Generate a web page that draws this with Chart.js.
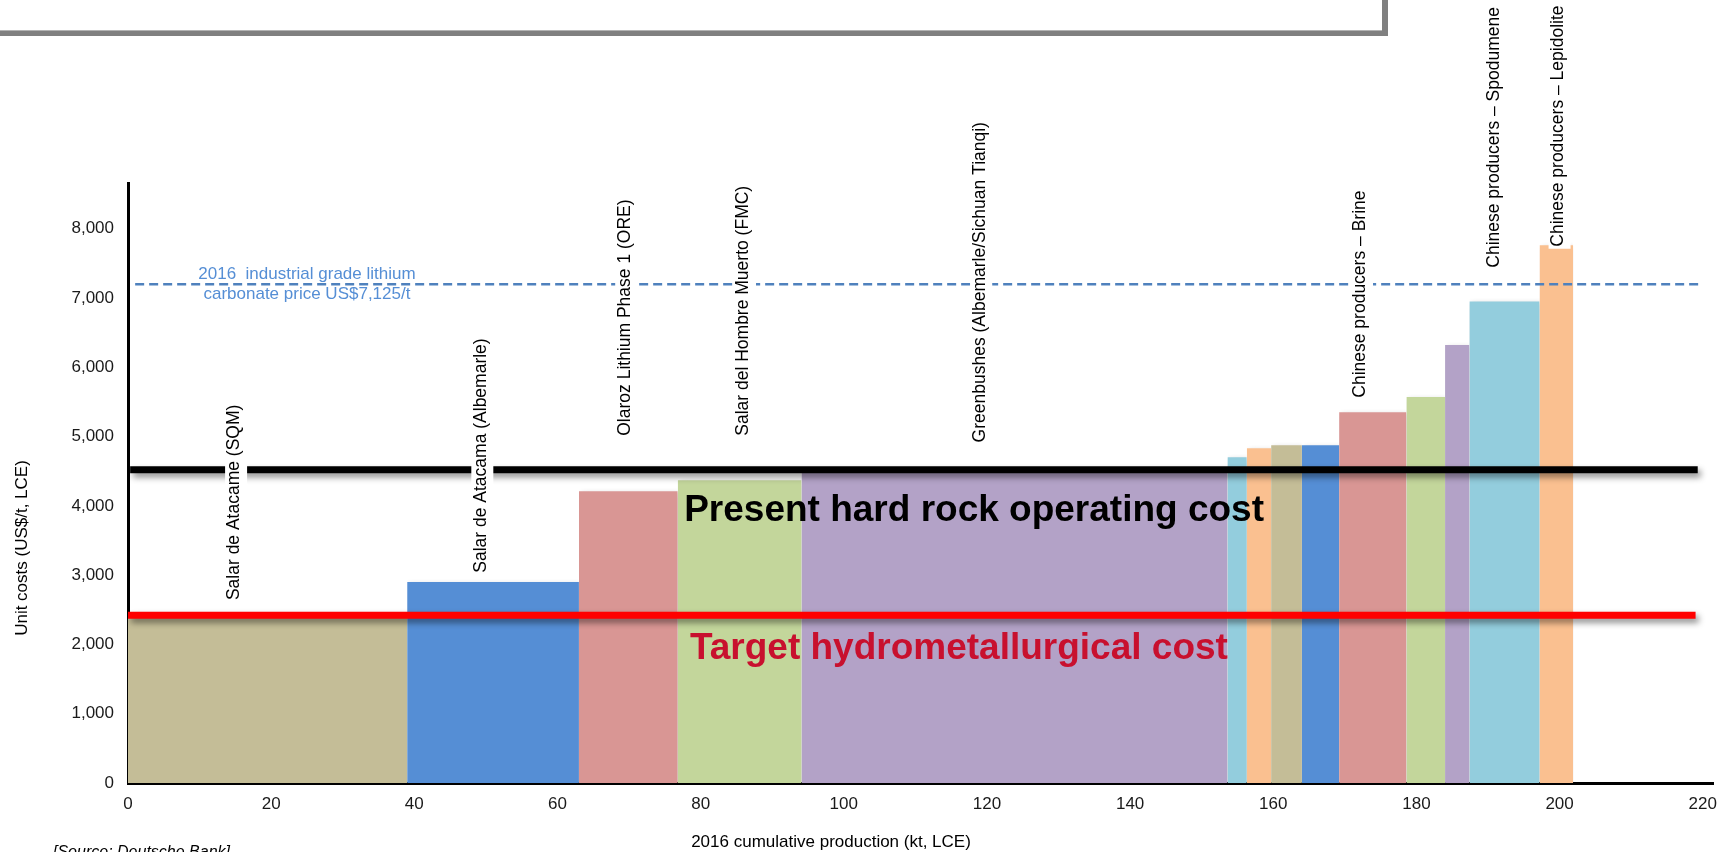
<!DOCTYPE html>
<html>
<head>
<meta charset="utf-8">
<script src="https://cdn.jsdelivr.net/npm/chart.js@4.4.1/dist/chart.umd.min.js"></script>
<style>
html,body{margin:0;padding:0;background:#fff;overflow:hidden;}
canvas{display:block;}
</style>
</head>
<body>
<canvas id="c" width="1728" height="852"></canvas>
<script>
// ---------------- DATA ----------------
const producers = [
  "Salar de Atacame (SQM)",
  "Salar de Atacama (Albemarle)",
  "Olaroz Lithium Phase 1 (ORE)",
  "Salar del Hombre Muerto (FMC)",
  "Greenbushes (Albemarle/Sichuan Tianqi)",
  "", "", "", "",
  "Chinese producers \u2013 Brine",
  "", "",
  "Chinese producers \u2013 Spodumene",
  "Chinese producers \u2013 Lepidolite"
];
// 2016 production per producer (kt LCE) -> bar widths
const production = [39, 24, 13.8, 17.3, 59.5, 2.7, 3.4, 4.3, 5.2, 9.4, 5.4, 3.4, 9.8, 4.7];
// unit cost (US$/t LCE) -> bar heights
const unitCost = [2380, 2900, 4210, 4370, 4490, 4700, 4830, 4875, 4875, 5350, 5570, 6320, 6950, 7760];
const hardRockCost = 4520;
const hydroCost = 2420;
const lithiumPrice = 7200;
const xTickLabels = [0, 20, 40, 60, 80, 100, 120, 140, 160, 180, 200, 220];
const yTickLabels = [0, 1000, 2000, 3000, 4000, 5000, 6000, 7000, 8000];
const priceText = ["2016  industrial grade lithium", "carbonate price US$7,125/t"];
const hardRockText = "Present hard rock operating cost";
const hydroText = "Target hydrometallurgical cost";
const yTitle = "Unit costs (US$/t, LCE)";
const xTitle = "2016 cumulative production (kt, LCE)";
const sourceText = "[Source: Deutsche Bank]";

// ---------------- STYLE / LAYOUT ----------------
const FONT = '"Liberation Sans", Arial, Helvetica, sans-serif';
const palette = ["#C4BD97", "#558ED5", "#D99694", "#C3D69B", "#B3A2C7", "#93CDDD", "#FAC090"];
// label anchors (data units: x centre, y of text start)
const labelAnchor = [[15.1, 2640], [49.5, 3035], [69.6, 5012], [86.2, 5012], [119.2, 4916],
  null, null, null, null, [172.4, 5561], null, null, [191.1, 7437], [200.0, 7740]];

let cum = 0;
const barDatasets = unitCost.map((c, i) => {
  const x0 = cum; cum += production[i]; const x1 = cum;
  return {
    label: producers[i] || ("producer " + (i + 1)),
    data: [{x: x0, y: c}, {x: x1, y: c}],
    backgroundColor: palette[i % palette.length],
    borderColor: "rgba(0,0,0,0)",
    borderWidth: 0,
    pointRadius: 0,
    fill: "origin",
    tension: 0,
    order: 2,
    kind: "bar"
  };
});
const refDatasets = [
  {label: "hard rock", data: [{x: 0.3, y: hardRockCost}, {x: 219.3, y: hardRockCost}],
   borderColor: "#000000", borderWidth: 7, borderCapStyle: "butt", pointRadius: 0, fill: false, order: 1, kind: "solid"},
  {label: "hydro", data: [{x: 0, y: hydroCost}, {x: 219.0, y: hydroCost}],
   borderColor: "#FF0000", borderWidth: 7, borderCapStyle: "butt", pointRadius: 0, fill: false, order: 1, kind: "solid"},
  {label: "price", data: [{x: 1.0, y: lithiumPrice}, {x: 219.7, y: lithiumPrice}],
   borderColor: "#4F81BD", borderWidth: 2.5, borderDash: [9, 5], pointRadius: 0, fill: false, order: 0, kind: "dash"}
];

const shadowPlugin = {
  id: "shadows",
  beforeDatasetsDraw(chart) {
    const ctx = chart.ctx;
    ctx.shadowColor = "rgba(0,0,0,0.22)";
    ctx.shadowBlur = 5;
    ctx.shadowOffsetX = 2;
    ctx.shadowOffsetY = 2;
  },
  beforeDatasetDraw(chart, args) {
    const ctx = chart.ctx;
    const k = chart.data.datasets[args.index].kind;
    if (k === "solid") {
      ctx.shadowColor = "rgba(0,0,0,0.45)";
      ctx.shadowBlur = 6;
      ctx.shadowOffsetX = 3;
      ctx.shadowOffsetY = 4;
    } else if (k === "dash") {
      ctx.shadowColor = "rgba(0,0,0,0)";
      ctx.shadowBlur = 0;
      ctx.shadowOffsetX = 0;
      ctx.shadowOffsetY = 0;
    }
  },
  afterDatasetsDraw(chart) {
    const ctx = chart.ctx;
    ctx.shadowColor = "rgba(0,0,0,0)";
    ctx.shadowBlur = 0;
    ctx.shadowOffsetX = 0;
    ctx.shadowOffsetY = 0;
  }
};

const textPlugin = {
  id: "texts",
  afterDraw(chart) {
    const ctx = chart.ctx, xs = chart.scales.x, ys = chart.scales.y;
    ctx.save();
    // frame of the text box above the chart
    ctx.fillStyle = "#808080";
    ctx.fillRect(0, 30, 1388, 6);
    ctx.fillRect(1382, 0, 6, 36);
    ctx.fillStyle = "#b3b3b3";
    ctx.fillRect(0, 30, 1382, 1);

    // producer labels (vertical, with white background)
    ctx.font = "17.5px " + FONT;
    producers.forEach((name, i) => {
      const a = labelAnchor[i];
      if (!name || !a) return;
      const px = xs.getPixelForValue(a[0]);
      const py = ys.getPixelForValue(a[1]);
      const w = ctx.measureText(name).width;
      ctx.fillStyle = "#ffffff";
      ctx.fillRect(px - 11, py - w - 2, 22, w + 4);
      ctx.save();
      ctx.translate(px, py);
      ctx.rotate(-Math.PI / 2);
      ctx.fillStyle = "#000000";
      ctx.textAlign = "left";
      ctx.textBaseline = "middle";
      ctx.fillText(name, 0, -1.5);
      ctx.restore();
    });

    // price annotation
    ctx.font = "17px " + FONT;
    ctx.fillStyle = "#558ED5";
    ctx.textAlign = "center";
    ctx.textBaseline = "middle";
    const priceY = ys.getPixelForValue(lithiumPrice);
    const priceX = xs.getPixelForValue(25);
    ctx.fillText(priceText[0], priceX, priceY - 10);
    ctx.fillText(priceText[1], priceX, priceY + 10.5);

    // big cost labels
    ctx.font = "bold 37px " + FONT;
    ctx.textAlign = "left";
    ctx.textBaseline = "alphabetic";
    ctx.fillStyle = "#000000";
    ctx.fillText(hardRockText, xs.getPixelForValue(77.7), ys.getPixelForValue(3786));
    ctx.fillStyle = "#C8102E";
    ctx.fillText(hydroText, xs.getPixelForValue(78.5), ys.getPixelForValue(1794));

    // axis titles
    ctx.font = "17px " + FONT;
    ctx.fillStyle = "#000000";
    ctx.textAlign = "center";
    ctx.textBaseline = "middle";
    ctx.fillText(xTitle, 831, 842);
    ctx.save();
    ctx.translate(22, 548);
    ctx.rotate(-Math.PI / 2);
    ctx.fillText(yTitle, 0, 0);
    ctx.restore();

    // source
    ctx.font = "italic 16px " + FONT;
    ctx.textAlign = "left";
    ctx.textBaseline = "alphabetic";
    ctx.fillText(sourceText, 53, 857);
    ctx.restore();
  }
};

new Chart(document.getElementById("c"), {
  type: "line",
  data: {datasets: [...refDatasets, ...barDatasets]},
  options: {
    responsive: false,
    animation: false,
    devicePixelRatio: 1,
    events: [],
    layout: {padding: {left: 0, right: 12, top: 183, bottom: 0}},
    plugins: {legend: {display: false}, tooltip: {enabled: false}, title: {display: false}},
    scales: {
      x: {
        type: "linear",
        min: xTickLabels[0],
        max: 221.5,
        z: 1,
        grid: {display: false, drawTicks: false},
        border: {display: true, color: "#000", width: 3},
        afterBuildTicks: (s) => { s.ticks = xTickLabels.map(v => ({value: v})); },
        ticks: {font: {family: FONT, size: 17}, color: "#1a1a1a", padding: 11, maxRotation: 0, autoSkip: false, includeBounds: false},
        afterFit: (s) => { s.height = 69; }
      },
      y: {
        type: "linear",
        min: 0,
        max: 8660,
        z: 1,
        grid: {display: false, drawTicks: false},
        border: {display: true, color: "#000", width: 3},
        afterBuildTicks: (s) => { s.ticks = yTickLabels.map(v => ({value: v})); },
        ticks: {font: {family: FONT, size: 17}, color: "#1a1a1a", padding: 14, includeBounds: false,
          callback: (v) => Number(v).toLocaleString("en-US")},
        afterFit: (s) => { s.width = 128; }
      }
    }
  },
  plugins: [shadowPlugin, textPlugin]
});
</script>
</body>
</html>
